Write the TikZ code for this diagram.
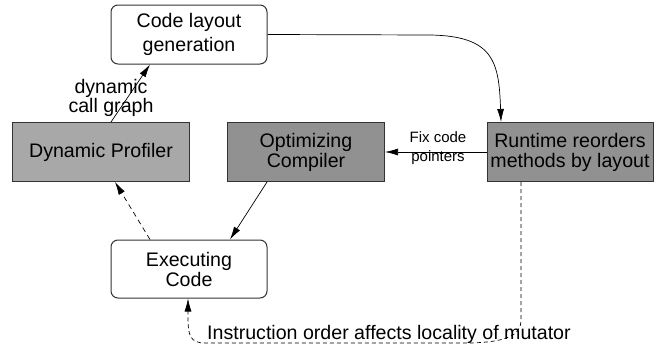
\documentclass[tikz,border=0pt]{standalone}
\usepackage{fontspec}
\setmainfont{Liberation Sans}
\usetikzlibrary{arrows.meta,calc}
\begin{document}
\begin{tikzpicture}[x=1pt,y=-1pt,
  box/.style={draw=black!80,line width=1pt,align=center,inner sep=0pt,
    font=\fontsize{19.6}{20}\selectfont},
  rbox/.style={box,rounded corners=7pt,fill=white},
  dark/.style={box,fill=black!43},
  light/.style={box,fill=black!34},
  conn/.style={line width=0.7pt,-{Latex[length=13pt,width=7pt]}},
  lbl/.style={font=\fontsize{19.6}{19}\selectfont,align=center,inner sep=0pt},
  slbl/.style={font=\fontsize{15}{15}\selectfont,inner sep=0pt}]
\useasboundingbox (0,0) rectangle (656,364);
\node[rbox,minimum width=156pt,minimum height=59pt,font=\fontsize{19.6}{24}\selectfont] (code) at (189,34.5) {Code layout\\generation};
\node[light,minimum width=177pt,minimum height=59pt] (prof) at (101,152) {Dynamic Profiler};
\node[dark,minimum width=157pt,minimum height=59pt] (opt) at (306,152) {Optimizing\\Compiler};
\node[dark,minimum width=166pt,minimum height=59pt] (rt) at (570,152) {Runtime reorders\\methods by layout};
\node[rbox,minimum width=156pt,minimum height=58pt] (exec) at (189,269) {Executing\\Code};
% curved arrow
\coordinate (rtin) at ($(rt.north)+(-69,0)$);
\draw[conn] (code.east) -- (430,35) .. controls (494,36) and (499,62) .. (rtin);
% dynamic call graph
\coordinate (pfout) at ($(prof.north)+(10,0)$);
\coordinate (cdin) at ($(code.south)+(-39,0)$);
\draw[conn] (pfout) -- (cdin);
\node[lbl] (dcg) at (111,97.5) {dynamic\\call graph};
% fix code pointers
\coordinate (rtl) at (rt.west);
\draw[conn] (rtl) -- (opt.east);
\node[slbl] (fix) at (438,137) {Fix code};
\node[slbl] (ptr) at (438,158) {pointers};
% optimizing -> executing
\coordinate (opout) at ($(opt.south)+(-39,0)$);
\coordinate (exin) at ($(exec.north)+(41,0)$);
\draw[conn] (opout) -- (exin);
% executing -> profiler dashed
\coordinate (exout) at ($(exec.north)+(-39,0)$);
\coordinate (pfin) at ($(prof.south)+(14,0)$);
\draw[conn,dash pattern=on 5pt off 4pt] (exout) -- (pfin);
% bottom dashed loop
\coordinate (rtout) at ($(rt.south)+(-49,0)$);
\coordinate (exbin) at ($(exec.south)+(-1,0)$);
\draw[conn,dash pattern=on 4pt off 3pt] (rtout) -- (521,320) .. controls (521,336) and (505,342) .. (470,343)
  -- (205,343) .. controls (190,343) and (188,335) .. (188,318) -- (exbin);
\node[lbl,anchor=west] (instr) at (207,334) {Instruction order affects locality of mutator};
\end{tikzpicture}
\end{document}
